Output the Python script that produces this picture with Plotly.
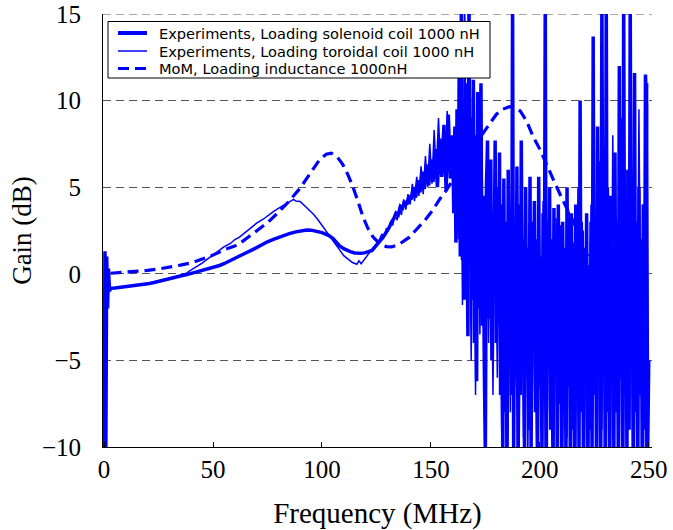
import numpy as np
import plotly.graph_objects as go

# ---------------- data ----------------
# Solenoid coil (thick solid): smooth part
sol_f_smooth = [0, 0.4, 0.8, 1.2, 1.6, 2.0, 2.5, 3, 5, 8, 10, 13, 15, 18, 20, 23, 25, 28, 30, 33, 35, 38, 40,
                43, 45, 48, 50, 53, 55, 58, 60, 63, 65, 68, 70, 73, 75, 78, 80, 83, 85, 88, 90, 93, 95,
                98, 100, 103, 105, 108, 110, 113, 115, 118, 120, 123, 125, 128, 130]
sol_g_smooth = [-10.5, 1.3, -10.5, 1.0, -2.0, 0.3, -1.0, -0.84, -0.82, -0.78, -0.76, -0.72, -0.69, -0.62,
                -0.58, -0.5, -0.43, -0.36, -0.3, -0.2, -0.13, -0.05, 0.02, 0.1, 0.18, 0.27, 0.35, 0.48,
                0.58, 0.75, 0.88, 1.05, 1.2, 1.38, 1.52, 1.7, 1.85, 2.0, 2.1, 2.25, 2.32, 2.42, 2.48,
                2.53, 2.52, 2.45, 2.38, 2.22, 2.05, 1.62, 1.45, 1.28, 1.2, 1.18, 1.22, 1.35, 1.65, 2.1, 2.5]
# Solenoid coil: noisy part A, 131..160 MHz in 1 MHz steps
sol_g_noisy_a = [2.7, 3.0, 3.2, 3.5, 3.4, 3.9, 3.8, 4.2, 4.0, 4.5,
                 4.3, 5.0, 4.4, 5.4, 4.7, 5.9, 4.9, 6.3, 5.1, 6.6,
                 5.3, 7.2, 5.0, 7.8, 5.6, 8.6, 4.8, 9.2, 5.5, 8.0]
# Solenoid coil: noisy part B, 160.5..250 MHz in 0.5 MHz steps
sol_g_noisy_b = [3.5, 8.5, 1.8, 9.5, 3.0, 12.0, 1.0, 16, 0.8, 7.0,
                 -1.5, 11.0, 2.0, -3.6, 16, 0.5, 9.0, -1.5, 11.2, -4.0,
                 8.0, -6.2, 10.5, -2.0, 6.0, 11.0, -3.0, 4.5, -5.0, -10.5,
                 5.0, 7.7, -2.6, 4.0, 6.6, -5.0, 3.0, -1.0, 7.7, -4.0,
                 5.0, -3.0, 7.0, -7.0, 4.0, -10.5, 5.5, -8.0, 3.0, -10.5,
                 6.0, -4.0, 2.5, -7.0, 16, -10.5, 3.0, -6.0, 6.2, -10.5,
                 4.0, -7.0, 7.7, -5.0, 2.0, -10.5, 5.0, -6.0, 1.5, -9.0,
                 5.6, -10.5, 3.0, -4.0, 4.2, -8.0, 2.0, -10.5, 5.6, -6.5,
                 1.0, -10.5, 3.5, -7.0, 16, -10.5, 2.5, -5.5, 5.0, -9.0,
                 2.0, -10.5, 3.8, -6.0, 2.3, -10.5, 4.0, -7.5, 1.0, -10.5,
                 3.0, -8.0, 1.5, -10.5, 5.0, -6.5, 2.0, -10.5, 3.5, -9.0,
                 1.0, -10.5, 4.0, -7.0, 2.0, -10.5, 10.0, -8.0, 2.5, -10.5,
                 1.5, -6.0, 3.5, -10.5, 0.5, -9.0, 3.0, -10.5, 13.7, -7.0,
                 2.0, -10.5, 8.5, -5.0, 1.0, -10.5, 16, -4.0, 3.0, -10.5,
                 16, -8.0, 2.0, -10.5, 4.5, -6.0, 1.5, -10.5, 7.0, -8.0,
                 2.5, -10.5, 12.0, -6.0, 3.0, -10.5, 16, -7.0, 2.0, -10.5,
                 6.0, -9.0, 16, -5.0, 1.0, -10.5, 11.6, -8.0, 3.0, -10.5,
                 5.0, -7.0, 2.0, -10.5, 4.0, -9.0, 11.5, 9.6, -10.5, -5.0]

# Toroidal coil (thin solid): smooth part
tor_f_smooth = [0, 0.4, 0.8, 1.2, 2.0, 3, 5, 10, 15, 20, 25, 30, 33, 35, 38, 40, 43, 45, 48, 50, 53, 55,
                58, 60, 62, 65, 68, 70, 73, 75, 78, 80, 83, 85, 87, 88, 90, 92, 94, 96, 98, 100, 102,
                104, 106, 108, 110, 112, 114, 116, 117, 118, 120, 122, 124, 125.5]
tor_g_smooth = [-10.5, 1.1, -10.5, 0.6, -1.0, -0.84, -0.8, -0.74, -0.66, -0.55, -0.42, -0.28, -0.18,
                -0.08, 0.05, 0.22, 0.45, 0.62, 0.9, 1.1, 1.35, 1.55, 1.75, 1.98, 2.1, 2.4, 2.7, 2.92,
                3.15, 3.35, 3.62, 3.78, 3.98, 4.15, 4.3, 4.2, 4.18, 3.95, 3.72, 3.45, 3.15, 2.8, 2.45,
                2.05, 1.7, 1.35, 1.05, 0.85, 0.65, 0.55, 0.75, 0.58, 0.95, 1.25, 1.55, 1.8]
# Toroidal coil: noisy part, 126.5..249.5 MHz in 1 MHz steps
tor_g_noisy = [2.0, 2.3, 2.1, 2.6, 2.5, 3.0, 2.8, 3.4, 3.1, 3.8,
               3.4, 4.3, 3.7, 4.6, 4.0, 5.2, 4.2, 5.6, 4.5, 6.2,
               4.6, 6.8, 5.0, 7.5, 5.2, 8.3, 5.8, 9.0, 6.0, 8.2,
               5.5, 9.4, 6.2, 7.4, 4.2, 8.0, 2.0, 13.0, -1.8, 16,
               2.0, 8.0, -5.0, 9.0, -7.0, 8.0, -3.5, 6.5, -5.5, 5.0,
               -4.0, 6.0, -7.0, 5.5, -6.0, 4.0, -9.0, 4.5, -10.5, 3.0,
               -8.0, 5.5, -6.5, 4.0, -10.5, 3.5, -9.5, 4.5, -10.5, 2.5,
               -7.5, 3.8, -10.5, 2.0, -9.0, 4.2, -10.5, 3.0, -8.0, 1.5,
               -10.5, 3.2, -7.0, 2.8, -10.5, 1.0, -9.5, 3.6, -10.5, 1.8,
               -10.5, 5.0, -8.0, 3.0, -10.5, 1.5, -10.5, 4.0, -6.0, 2.5,
               -10.5, 6.5, -9.0, 3.5, -10.5, 5.0, -10.5, 8.0, -7.0, 3.0,
               -10.5, 9.0, -10.5, 6.0, -8.5, 10.0, -10.5, 7.0, -10.5, 9.5,
               -7.0, 4.0, -10.5, 11.0]

# MoM, loading inductance (dashed)
mom_f = [3, 8, 15, 20, 25, 30, 35, 40, 45, 50, 55, 60, 62.4, 65, 70, 75, 80, 85, 90, 95, 99, 102,
         104.3, 107, 109.6, 112, 114.2, 116.5, 118.8, 121, 123.4, 126, 129.5, 132, 135.6, 140,
         143.3, 147, 151, 154, 157, 160, 165, 170, 174, 177, 180, 183, 186, 188.5, 191, 194, 197,
         200, 203, 206, 210, 213.7, 217, 220.6, 222]
mom_g = [0.03, 0.07, 0.14, 0.2, 0.28, 0.37, 0.5, 0.63, 0.85, 1.08, 1.38, 1.6, 1.76, 2.0, 2.45, 2.95,
         3.55, 4.2, 4.95, 5.85, 6.6, 6.9, 6.96, 6.75, 6.3, 5.7, 5.03, 4.2, 3.3, 2.65, 2.14, 1.8,
         1.57, 1.55, 1.72, 2.1, 2.53, 3.05, 3.7, 4.3, 4.8, 5.4, 6.5, 7.4, 8.1, 8.7, 9.2, 9.5, 9.65,
         9.6, 9.4, 8.8, 7.9, 7.2, 6.4, 5.5, 4.4, 3.5, 2.6, 1.4, 1.0]

x_ticks = [0, 50, 100, 150, 200, 250]
y_ticks = [-10, -5, 0, 5, 10, 15]

names = ["Experiments, Loading solenoid coil 1000 nH",
         "Experiments, Loading toroidal coil 1000 nH",
         "MoM, Loading inductance 1000nH"]

# ---------------- build ----------------
sol_f = (list(sol_f_smooth) + list(np.arange(131, 161, 1.0))
         + list(np.arange(160.5, 160.5 + 0.5 * len(sol_g_noisy_b), 0.5)))
sol_g = list(sol_g_smooth) + list(sol_g_noisy_a) + list(sol_g_noisy_b)
tor_f = list(tor_f_smooth) + list(np.arange(126.5, 126.5 + len(tor_g_noisy), 1.0))
tor_g = list(tor_g_smooth) + list(tor_g_noisy)

BLUE = "#0000FF"
widths = [3.5, 1.5, 3.2]
dashes = ["solid", "solid", "11px,6px"]
GRID = "#555"
GRID_DASH = "8px,5px"

fig = go.Figure()
fig.add_trace(go.Scatter(x=sol_f, y=sol_g, mode="lines", name=names[0], showlegend=False,
                         line=dict(color=BLUE, width=widths[0])))
fig.add_trace(go.Scatter(x=tor_f, y=tor_g, mode="lines", name=names[1], showlegend=False,
                         line=dict(color=BLUE, width=widths[1])))
fig.add_trace(go.Scatter(x=mom_f, y=mom_g, mode="lines", name=names[2], showlegend=False,
                         line=dict(color=BLUE, width=widths[2], dash=dashes[2])))

# ---- legend box drawn in plot-area (paper) coordinates ----
L, T, W, H = 103, 14, 549, 433          # plot area in pixels


def px(xp):
    return (xp - L) / W


def py(yp):
    return (T + H - yp) / H


shapes = [
    # dashed gridline along the top edge (y = 15)
    dict(type="line", xref="paper", yref="y", x0=0, x1=1, y0=y_ticks[-1], y1=y_ticks[-1],
         line=dict(color=GRID, width=1, dash=GRID_DASH), layer="below"),
    dict(type="rect", xref="paper", yref="paper", x0=px(108), x1=px(490), y0=py(78), y1=py(21.5),
         line=dict(color="black", width=1), fillcolor="white", layer="above"),
]
annotations = []
row_y = [33, 51, 68.5]
for i, name in enumerate(names):
    shapes.append(dict(type="line", xref="paper", yref="paper", x0=px(118), x1=px(147),
                       y0=py(row_y[i]), y1=py(row_y[i]), layer="above",
                       line=dict(color=BLUE, width=widths[i] + (0.5 if i == 0 else 0), dash=dashes[i])))
    annotations.append(dict(text=name, xref="paper", yref="paper", x=px(157), y=py(row_y[i]),
                            xanchor="left", yanchor="middle", showarrow=False,
                            font=dict(family="DejaVu Sans", size=14.6, color="black")))

serif = "Liberation Serif"
fig.update_layout(
    width=673, height=530,
    margin=dict(l=L, r=673 - L - W, t=T, b=530 - T - H),
    paper_bgcolor="white", plot_bgcolor="white",
    showlegend=False,
    shapes=shapes, annotations=annotations,
    xaxis=dict(range=[-0.5, 251.5], tickvals=x_ticks, showgrid=False, zeroline=False,
               automargin=False,
               showline=True, linecolor="black", linewidth=1,
               ticks="inside", ticklen=5, tickcolor="black",
               tickfont=dict(family=serif, size=25, color="black"),
               title=dict(text="Frequency (MHz)", font=dict(family=serif, size=29, color="black"),
                          standoff=22)),
    yaxis=dict(range=[-10, 15], tickvals=y_ticks, showgrid=True, gridcolor=GRID,
               griddash=GRID_DASH, gridwidth=1, zeroline=False, automargin=False,
               showline=True, linecolor="black", linewidth=1,
               ticks="", ticklabelstandoff=16,
               tickfont=dict(family=serif, size=25, color="black"),
               title=dict(text="Gain (dB)", font=dict(family=serif, size=27, color="black"),
                          standoff=2)),
)

fig.write_html("out.html")
